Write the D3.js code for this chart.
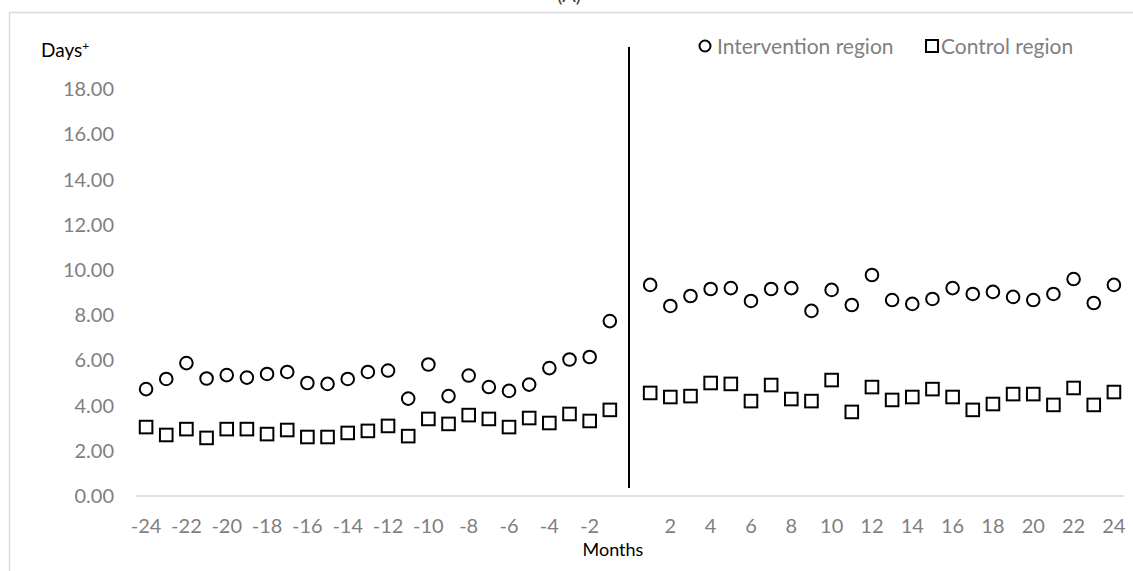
<!DOCTYPE html>
<html>
<head>
<meta charset="utf-8">
<script src="https://cdnjs.cloudflare.com/ajax/libs/d3/7.8.5/d3.min.js"></script>
<style>
  body { margin: 0; background: #fff; }
  svg { display: block; font-family: Lato, 'Open Sans', sans-serif; }
</style>
</head>
<body>
<svg id="chart"></svg>
<script>
// categories on the x axis (0 is the intervention start, no data)
const categories = d3.range(-24, 25);
const months = [-24,-23,-22,-21,-20,-19,-18,-17,-16,-15,-14,-13,-12,-11,-10,-9,-8,-7,-6,-5,-4,-3,-2,-1,
                1,2,3,4,5,6,7,8,9,10,11,12,13,14,15,16,17,18,19,20,21,22,23,24];
const intervention = [4.73,5.18,5.88,5.20,5.35,5.24,5.40,5.49,5.00,4.96,5.18,5.49,5.55,4.31,5.82,4.42,5.33,4.82,4.65,4.93,5.66,6.04,6.15,7.74,
                      9.34,8.41,8.85,9.16,9.20,8.63,9.16,9.20,8.19,9.12,8.45,9.78,8.67,8.50,8.72,9.20,8.94,9.03,8.81,8.67,8.94,9.60,8.54,9.34];
const control = [3.05,2.70,2.96,2.57,2.96,2.96,2.74,2.92,2.61,2.61,2.79,2.88,3.10,2.65,3.41,3.19,3.58,3.41,3.05,3.45,3.23,3.63,3.32,3.81,
                 4.56,4.38,4.42,5.00,4.96,4.20,4.91,4.29,4.20,5.13,3.72,4.82,4.25,4.38,4.73,4.38,3.81,4.07,4.51,4.51,4.03,4.78,4.03,4.60];
const xTickLabels = [-24,-22,-20,-18,-16,-14,-12,-10,-8,-6,-4,-2,2,4,6,8,10,12,14,16,18,20,22,24];
const yTicks = [0,2,4,6,8,10,12,14,16,18];

const W = 1133, H = 571;
const svg = d3.select('#chart').attr('width', W).attr('height', H);

// outer frame (only top/left visible in the picture)
svg.append('rect').attr('x', 9.5).attr('y', 12.5).attr('width', 1200).attr('height', 700)
  .attr('fill', 'none').attr('stroke', '#d9d9d9').attr('stroke-width', 1.5);

// title, cut off by the top edge as in the source
svg.append('text').attr('x', 569).attr('y', 2).attr('text-anchor', 'middle')
  .style('font-size', '20px').style('fill', '#404040').text('(A)');

const x = d3.scaleBand().domain(categories).range([136, 1124]).padding(0);
const cx = d => x(d) + x.bandwidth() / 2;
const y = d3.scaleLinear().domain([0, 20]).range([496, 44]);

// y axis labels (no axis line, no gridlines)
const yAxis = d3.axisLeft(y).tickValues(yTicks).tickFormat(d3.format('.2f')).tickSize(0).tickPadding(0);
svg.append('g').attr('transform', 'translate(114,0)').call(yAxis)
  .call(g => g.select('.domain').remove())
  .call(g => g.selectAll('text').style('font-size', '20px').style('fill', '#7f7f7f').style('font-family', 'Lato, sans-serif'));

// x axis
svg.append('line').attr('x1', 136).attr('x2', 1124).attr('y1', y(0)).attr('y2', y(0))
  .attr('stroke', '#d9d9d9').attr('stroke-width', 1.5);
const xAxis = d3.axisBottom(x).tickValues(xTickLabels).tickSize(0).tickPadding(0);
svg.append('g').attr('transform', 'translate(0,' + (y(0) + 25) + ')').call(xAxis)
  .call(g => g.select('.domain').remove())
  .call(g => g.selectAll('text').attr('dy', '0.6em').style('font-size', '20px').style('fill', '#7f7f7f').style('font-family', 'Lato, sans-serif'));

// intervention start line
svg.append('line').attr('x1', cx(0) - 1).attr('x2', cx(0) - 1).attr('y1', y(19.87)).attr('y2', y(0.35))
  .attr('stroke', '#000').attr('stroke-width', 2);

// markers
svg.append('g').selectAll('circle').data(months).enter().append('circle')
  .attr('cx', d => cx(d)).attr('cy', (d, i) => y(intervention[i])).attr('r', 6.3)
  .attr('fill', '#fff').attr('stroke', '#000').attr('stroke-width', 2);

svg.append('g').selectAll('rect').data(months).enter().append('rect')
  .attr('x', d => cx(d) - 6.3).attr('y', (d, i) => y(control[i]) - 6.3)
  .attr('width', 12.6).attr('height', 12.6)
  .attr('fill', '#fff').attr('stroke', '#000').attr('stroke-width', 2);

// axis titles
const daysLabel = svg.append('text').attr('x', 41).attr('y', 57).style('font-size', '19px').style('fill', '#000');
daysLabel.append('tspan').text('Days');
daysLabel.append('tspan').attr('dy', -7).style('font-size', '12px').text('+');
svg.append('text').attr('x', 613).attr('y', 556).attr('text-anchor', 'middle')
  .style('font-size', '18px').style('fill', '#000').text('Months');

// legend
const legend = svg.append('g');
legend.append('circle').attr('cx', 705).attr('cy', 46).attr('r', 5.5)
  .attr('fill', '#fff').attr('stroke', '#000').attr('stroke-width', 2);
legend.append('text').attr('x', 717).attr('y', 54).style('font-size', '21px').style('fill', '#7f7f7f').text('Intervention region');
legend.append('rect').attr('x', 926).attr('y', 40).attr('width', 12).attr('height', 12)
  .attr('fill', '#fff').attr('stroke', '#000').attr('stroke-width', 2);
legend.append('text').attr('x', 941).attr('y', 54).style('font-size', '21px').style('fill', '#7f7f7f').text('Control region');
</script>
</body>
</html>
